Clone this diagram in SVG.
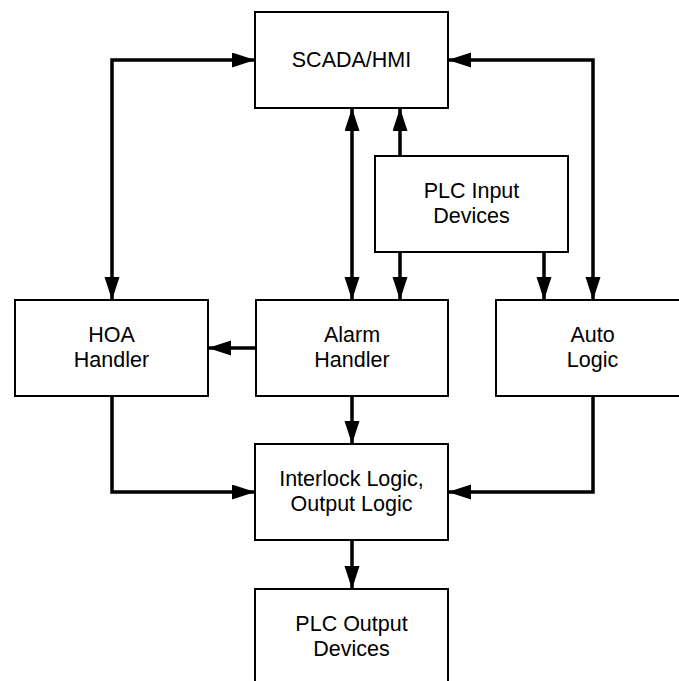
<svg xmlns="http://www.w3.org/2000/svg" width="679" height="681" viewBox="0 0 679 681">
  <defs>
    <marker id="arrow" markerUnits="userSpaceOnUse" markerWidth="23" markerHeight="16" refX="23" refY="7.5" orient="auto-start-reverse">
      <path d="M0,0 L23,7.5 L0,15 z" fill="#000"/>
    </marker>
    <style>
      .box { fill: #fff; stroke: #000; stroke-width: 2; }
      .lbl { font-family: "Liberation Sans", Arial, sans-serif; font-size: 21.5px; fill: #000; text-anchor: middle; }
      .conn { fill: none; stroke: #000; stroke-width: 3.5; }
      .end { marker-end: url(#arrow); }
      .both { marker-start: url(#arrow); marker-end: url(#arrow); }
    </style>
  </defs>
  <rect width="679" height="681" fill="#fff"/>

  <g id="connectors">
    <path class="conn both" d="M112,300 V60 H255"/>
    <path class="conn both" d="M593,300 V60 H448"/>
    <path class="conn both" d="M352,108 V300"/>
    <path class="conn end" d="M400,156 V108"/>
    <path class="conn end" d="M400,252 V300"/>
    <path class="conn end" d="M544,252 V300"/>
    <path class="conn end" d="M256,348 H208"/>
    <path class="conn end" d="M352,396 V444"/>
    <path class="conn end" d="M112,396 V492 H255"/>
    <path class="conn end" d="M593,396 V492 H448"/>
    <path class="conn end" d="M352,540 V589"/>
  </g>

  <g id="scada">
    <rect class="box" x="255" y="12" width="193" height="96"/>
    <text class="lbl" x="351.5" y="67">SCADA/HMI</text>
  </g>
  <g id="plc-input">
    <rect class="box" x="375" y="156" width="193" height="96"/>
    <text class="lbl" x="471.5" y="198">PLC Input</text>
    <text class="lbl" x="471.5" y="223">Devices</text>
  </g>
  <g id="hoa">
    <rect class="box" x="15" y="300" width="193" height="96"/>
    <text class="lbl" x="111.5" y="342">HOA</text>
    <text class="lbl" x="111.5" y="367">Handler</text>
  </g>
  <g id="alarm">
    <rect class="box" x="256" y="300" width="192" height="96"/>
    <text class="lbl" x="352" y="342">Alarm</text>
    <text class="lbl" x="352" y="367">Handler</text>
  </g>
  <g id="auto">
    <rect class="box" x="496" y="300" width="193" height="96"/>
    <text class="lbl" x="592.5" y="342">Auto</text>
    <text class="lbl" x="592.5" y="367">Logic</text>
  </g>
  <g id="interlock">
    <rect class="box" x="255" y="444" width="193" height="96"/>
    <text class="lbl" x="351.5" y="486">Interlock Logic,</text>
    <text class="lbl" x="351.5" y="511">Output Logic</text>
  </g>
  <g id="plc-output">
    <rect class="box" x="255" y="589" width="193" height="96"/>
    <text class="lbl" x="351.5" y="631">PLC Output</text>
    <text class="lbl" x="351.5" y="656">Devices</text>
  </g>
</svg>
